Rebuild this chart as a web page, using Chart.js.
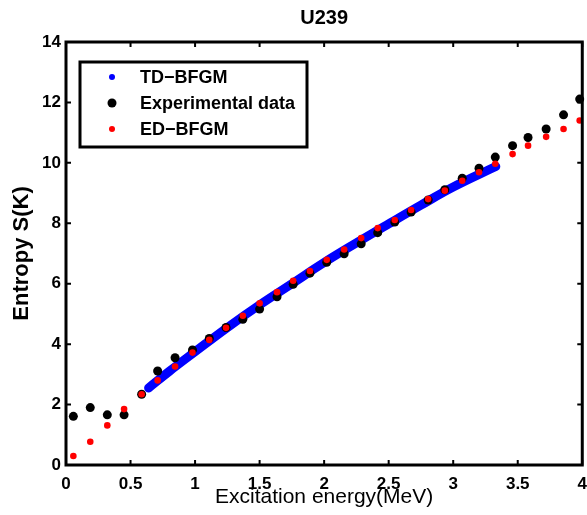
<!DOCTYPE html>
<html>
<head>
<meta charset="utf-8">
<script src="https://cdn.jsdelivr.net/npm/chart.js@4.4.1/dist/chart.umd.min.js"></script>
<style>
  html, body { margin: 0; padding: 0; background: #fff; }
</style>
</head>
<body>
<canvas id="myChart" width="587" height="515"></canvas>
<script>
// excitation energies (MeV) of the experimental / ED-BFGM points
const energy = [0.057, 0.188, 0.32, 0.45, 0.586, 0.71, 0.845, 0.98, 1.11, 1.24,
  1.37, 1.50, 1.635, 1.76, 1.89, 2.02, 2.155, 2.287, 2.415, 2.547,
  2.674, 2.806, 2.935, 3.07, 3.20, 3.326, 3.46, 3.58, 3.72, 3.855, 3.98];
const experimental = [1.61, 1.90, 1.66, 1.66, 2.34, 3.11, 3.55, 3.81, 4.19, 4.55,
  4.82, 5.16, 5.57, 5.98, 6.35, 6.71, 6.99, 7.32, 7.69, 8.04,
  8.37, 8.77, 9.11, 9.49, 9.82, 10.19, 10.57, 10.84, 11.12, 11.59, 12.11];
const edBfgm = [0.30, 0.77, 1.31, 1.85, 2.34, 2.80, 3.26, 3.72, 4.14, 4.54,
  4.94, 5.35, 5.72, 6.10, 6.42, 6.79, 7.13, 7.51, 7.84, 8.11,
  8.44, 8.80, 9.08, 9.41, 9.69, 9.97, 10.29, 10.57, 10.86, 11.12, 11.40];
// TD-BFGM curve (read at a few energies)
const tdEnergy = [0.64, 0.8, 1.0, 1.25, 1.5, 1.75, 2.0, 2.25, 2.5, 2.75, 3.0, 3.33];
const tdBfgm = [2.55, 3.1, 3.75, 4.55, 5.3, 6.0, 6.7, 7.35, 7.98, 8.6, 9.2, 9.88];

const xTicks = [0, 0.5, 1, 1.5, 2, 2.5, 3, 3.5, 4];
const yTicks = [0, 2, 4, 6, 8, 10, 12, 14];

const toPoints = (xs, ys) => xs.map((x, i) => ({ x: x, y: ys[i] }));

// box round the plot with inward tick marks
const framePlugin = {
  id: "frame",
  afterDatasetsDraw(chart) {
    const { ctx, chartArea: a, scales } = chart;
    const tl = 5;
    ctx.save();
    ctx.strokeStyle = "#000";
    ctx.lineWidth = 2;
    ctx.beginPath();
    xTicks.forEach((v) => {
      const px = scales.x.getPixelForValue(v);
      ctx.moveTo(px, a.bottom); ctx.lineTo(px, a.bottom - tl);
      ctx.moveTo(px, a.top); ctx.lineTo(px, a.top + tl);
    });
    yTicks.forEach((v) => {
      const py = scales.y.getPixelForValue(v);
      ctx.moveTo(a.left, py); ctx.lineTo(a.left + tl, py);
      ctx.moveTo(a.right, py); ctx.lineTo(a.right - tl, py);
    });
    ctx.stroke();
    ctx.lineWidth = 3;
    ctx.strokeRect(a.left, a.top, a.right - a.left, a.bottom - a.top);
    ctx.restore();
  },
};

// legend drawn inside the plot, upper left
const legendBox = {
  id: "legendBox",
  afterDraw(chart) {
    const { ctx } = chart;
    ctx.save();
    ctx.fillStyle = "#fff";
    ctx.fillRect(80, 62, 227, 85);
    ctx.strokeStyle = "#000";
    ctx.lineWidth = 3;
    ctx.strokeRect(80, 62, 227, 85);
    ctx.font = "bold 18px 'Liberation Sans', Arial, sans-serif";
    ctx.textBaseline = "middle";
    const rowsY = [77, 103, 129];
    chart.data.datasets.forEach((ds, i) => {
      ctx.fillStyle = ds.legendColor;
      ctx.beginPath();
      ctx.arc(112, rowsY[i], ds.legendRadius, 0, Math.PI * 2);
      ctx.fill();
      ctx.fillStyle = "#000";
      ctx.fillText(ds.label, 140, rowsY[i] + 1);
    });
    ctx.restore();
  },
};

new Chart(document.getElementById("myChart"), {
  type: "scatter",
  data: {
    datasets: [
      {
        label: "TD\u2212BFGM",
        data: toPoints(tdEnergy, tdBfgm),
        showLine: true,
        borderColor: "#0000ff",
        borderWidth: 9,
        borderCapStyle: "round",
        tension: 0.4,
        pointRadius: 0,
        legendColor: "#0000ff",
        legendRadius: 3,
        order: 3,
      },
      {
        label: "Experimental data",
        data: toPoints(energy, experimental),
        backgroundColor: "#000",
        borderColor: "#000",
        pointRadius: 4.5,
        pointBorderWidth: 0,
        legendColor: "#000",
        legendRadius: 4.5,
        order: 2,
      },
      {
        label: "ED\u2212BFGM",
        data: toPoints(energy, edBfgm),
        backgroundColor: "#ff0000",
        borderColor: "#ff0000",
        pointRadius: 3.3,
        pointBorderWidth: 0,
        legendColor: "#ff0000",
        legendRadius: 3,
        order: 1,
      },
    ],
  },
  options: {
    responsive: false,
    animation: false,
    devicePixelRatio: 1,
    clip: false,
    layout: { padding: { left: 0, right: 0, top: 0, bottom: 0 } },
    plugins: {
      legend: { display: false },
      tooltip: { enabled: false },
      title: {
        display: true,
        text: "U239",
        fullSize: false,
        color: "#000",
        font: { family: "'Liberation Sans', Arial, sans-serif", size: 20, weight: "bold" },
        padding: { top: 6, bottom: 12 },
      },
    },
    scales: {
      x: {
        type: "linear",
        min: 0,
        max: 4,
        grid: { display: false, drawTicks: true, tickLength: 9 },
        border: { display: false },
        afterBuildTicks: (s) => { s.ticks = xTicks.map((v) => ({ value: v })); },
        afterFit: (s) => { s.height = 50; },
        ticks: {
          color: "#000",
          padding: 0,
          maxRotation: 0,
          font: { family: "'Liberation Sans', Arial, sans-serif", size: 17, weight: "bold" },
          callback: (v) => String(v),
        },
        title: {
          display: true,
          text: "Excitation energy(MeV)",
          color: "#000",
          font: { family: "'Liberation Sans', Arial, sans-serif", size: 21 },
          padding: { top: 0, bottom: 5 },
        },
      },
      y: {
        type: "linear",
        min: 0,
        max: 14,
        grid: { display: false, drawTicks: false },
        border: { display: false },
        afterBuildTicks: (s) => { s.ticks = yTicks.map((v) => ({ value: v })); },
        afterFit: (s) => { s.width = 66; },
        ticks: {
          color: "#000",
          padding: 5,
          font: { family: "'Liberation Sans', Arial, sans-serif", size: 17, weight: "bold" },
          callback: (v) => String(v),
        },
        title: {
          display: true,
          text: "Entropy S(K)",
          color: "#000",
          font: { family: "'Liberation Sans', Arial, sans-serif", size: 22, weight: "bold" },
          padding: { top: 9, bottom: 0 },
        },
      },
    },
  },
  plugins: [framePlugin, legendBox],
});
</script>
</body>
</html>
